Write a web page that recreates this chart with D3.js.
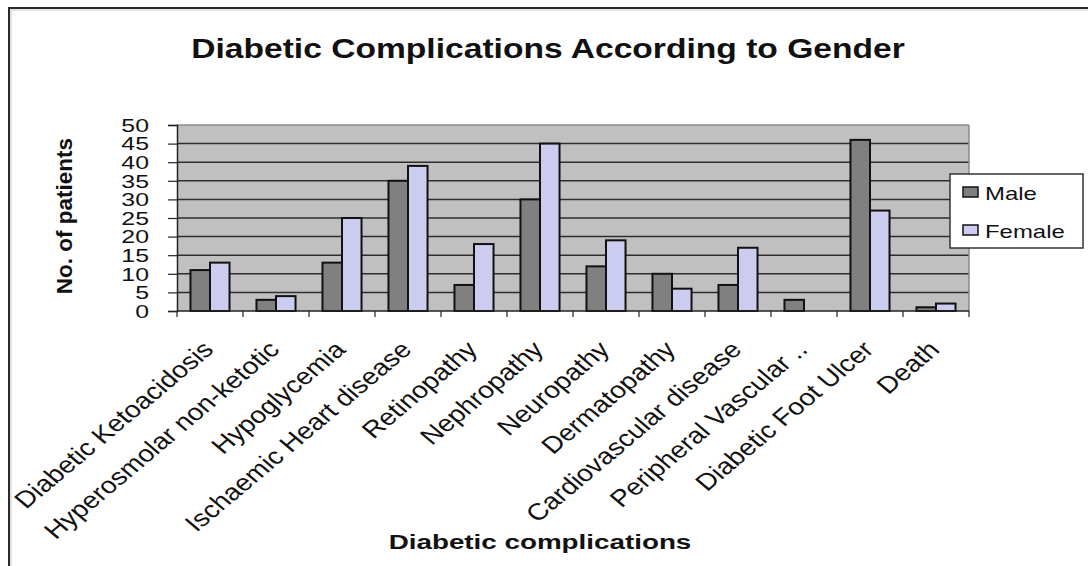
<!DOCTYPE html>
<html>
<head>
<meta charset="utf-8">
<script src="https://cdn.jsdelivr.net/npm/d3@7"></script>
<style>
  html, body { margin: 0; padding: 0; background: #fff; }
  svg { display: block; font-family: "Liberation Sans", Arial, sans-serif; }
</style>
</head>
<body>
<svg id="chart" width="1088" height="566"></svg>
<script>
// Complications and patient counts by gender
const categories = [
  "Diabetic Ketoacidosis", "Hyperosmolar non-ketotic", "Hypoglycemia",
  "Ischaemic Heart disease", "Retinopathy", "Nephropathy", "Neuropathy",
  "Dermatopathy", "Cardiovascular disease", "Peripheral Vascular ..",
  "Diabetic Foot Ulcer", "Death"
];
const seriesNames = ["Male", "Female"];
const maleValues   = [11, 3, 13, 35, 7, 30, 12, 10, 7, 3, 46, 1];
const femaleValues = [13, 4, 25, 39, 18, 45, 19, 6, 17, 0, 27, 2];
const yTicks = [0, 5, 10, 15, 20, 25, 30, 35, 40, 45, 50];

const colors = { Male: "#808080", Female: "#ccccf0" };
const values = { Male: maleValues, Female: femaleValues };

const svg = d3.select("#chart");
const plot = { left: 177, right: 969, top: 125, bottom: 311 };

// outer frame
svg.append("path")
  .attr("d", "M9,570 L9,8 L1092,8")
  .attr("fill", "none").attr("stroke", "#2a2a2a").attr("stroke-width", 2);
svg.append("path")
  .attr("d", "M11,570 L11,10 L1092,10")
  .attr("fill", "none").attr("stroke", "#c8c8c8").attr("stroke-width", 1);

// text drawn with a horizontal stretch
function stretchedText(parent, x, y, str, o) {
  const t = parent.append("text")
    .attr("transform", `translate(${x},${y}) scale(${o.sx || 1},1)` + (o.rot ? ` rotate(${o.rot})` : ""))
    .attr("font-size", o.size)
    .attr("font-weight", o.bold ? "bold" : "normal")
    .attr("text-anchor", o.anchor || "start")
    .attr("fill", "#111")
    .text(str);
  return t;
}

const x0 = d3.scaleBand().domain(categories).range([plot.left, plot.right]).padding(0);
const x1 = d3.scaleBand().domain(seriesNames).range([0, x0.bandwidth()]).paddingInner(0).paddingOuter(0.69);
const y = d3.scaleLinear().domain([0, 50]).range([plot.bottom, plot.top]);

// plot area
svg.append("rect")
  .attr("x", plot.left).attr("y", plot.top)
  .attr("width", plot.right - plot.left).attr("height", plot.bottom - plot.top)
  .attr("fill", "#c0c0c0");

// gridlines
svg.append("g").selectAll("line")
  .data(yTicks.filter(d => d > 0))
  .join("line")
  .attr("x1", plot.left).attr("x2", plot.right)
  .attr("y1", d => y(d)).attr("y2", d => y(d))
  .attr("stroke", d => d === 50 ? "#8a8a8a" : "#2e2e2e")
  .attr("stroke-width", 1.5);
svg.append("line")
  .attr("x1", plot.right).attr("x2", plot.right)
  .attr("y1", plot.top).attr("y2", plot.bottom)
  .attr("stroke", "#8a8a8a").attr("stroke-width", 1.5);

// bars
const groups = svg.append("g").selectAll("g")
  .data(categories)
  .join("g")
  .attr("transform", c => `translate(${x0(c)},0)`);
groups.selectAll("rect")
  .data((c, i) => seriesNames.map(s => ({ s, v: values[s][i] })).filter(d => d.v > 0))
  .join("rect")
  .attr("x", d => x1(d.s))
  .attr("y", d => y(d.v))
  .attr("width", x1.bandwidth())
  .attr("height", d => y(0) - y(d.v))
  .attr("fill", d => colors[d.s])
  .attr("stroke", "#111")
  .attr("stroke-width", 2);

// y axis
const yAxis = svg.append("g")
  .attr("transform", `translate(${plot.left},0)`)
  .call(d3.axisLeft(y).tickValues(yTicks).tickSize(9).tickPadding(0));
yAxis.select(".domain").attr("stroke", "#222").attr("stroke-width", 1.5);
yAxis.selectAll(".tick line").attr("stroke", "#222").attr("stroke-width", 1.2);
yAxis.selectAll(".tick text")
  .attr("x", 0).attr("dy", "0.36em")
  .attr("transform", "translate(-28,0) scale(1.42,1)")
  .attr("font-size", 17.5)
  .attr("font-family", "Liberation Sans, Arial, sans-serif")
  .attr("fill", "#111");

// x axis with boundary ticks
const xAxis = svg.append("g");
xAxis.append("line")
  .attr("x1", plot.left).attr("x2", plot.right)
  .attr("y1", plot.bottom).attr("y2", plot.bottom)
  .attr("stroke", "#222").attr("stroke-width", 1.5);
const bounds = categories.map(c => x0(c)).concat([x0.range()[1]]);
xAxis.selectAll(".bt")
  .data(bounds)
  .join("line")
  .attr("x1", d => d).attr("x2", d => d)
  .attr("y1", plot.bottom).attr("y2", plot.bottom + 6)
  .attr("stroke", "#222").attr("stroke-width", 1.2);

const xLabels = svg.append("g");
categories.forEach(c => {
  const cx = x0(c) + x0.bandwidth() / 2;
  stretchedText(xLabels, cx + 5, plot.bottom + 40, c, { size: 23.5, sx: 1.19, rot: -45, anchor: "end" });
});

// titles
stretchedText(svg, 548, 58, "Diabetic Complications According to Gender", { size: 27, sx: 1.245, bold: true, anchor: "middle" });
stretchedText(svg, 540, 549, "Diabetic complications", { size: 20, sx: 1.39, bold: true, anchor: "middle" });
svg.append("text")
  .attr("transform", "translate(72,216) rotate(-90)")
  .attr("font-size", 22.5).attr("font-weight", "bold")
  .attr("text-anchor", "middle").attr("fill", "#111")
  .text("No. of patients");

// legend
const legend = svg.append("g");
legend.append("rect")
  .attr("x", 950).attr("y", 174).attr("width", 133).attr("height", 74)
  .attr("fill", "#fff").attr("stroke", "#333").attr("stroke-width", 1.5);
seriesNames.forEach((s, i) => {
  const ly = 187 + i * 38;
  legend.append("rect")
    .attr("x", 963).attr("y", ly).attr("width", 15).attr("height", 10)
    .attr("fill", colors[s]).attr("stroke", "#111").attr("stroke-width", 1.5);
  stretchedText(legend, 985, ly + 12.5, s, { size: 18, sx: 1.33 });
});
</script>
</body>
</html>
